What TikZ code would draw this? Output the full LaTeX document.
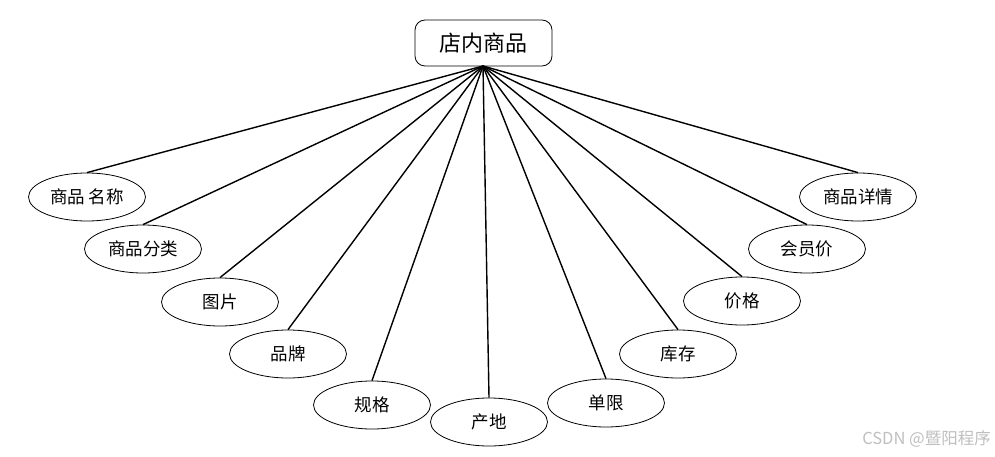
\documentclass[tikz,border=0pt]{standalone}
\usepackage{fontspec}
\newfontfamily\cjk{Noto Sans CJK SC}
\usetikzlibrary{shapes.geometric}
\begin{document}
\begin{tikzpicture}[x=1pt,y=-1pt,
  attr/.style={draw, ellipse, line width=0.8pt, minimum width=117pt, minimum height=48pt, inner sep=0pt, font=\cjk\fontsize{17.5}{20}\selectfont},
  root/.style={draw, rounded corners=10pt, line width=0.8pt, minimum width=137pt, minimum height=46pt, inner sep=0pt, font=\cjk\fontsize{22}{26}\selectfont},
  link/.style={line width=1.4pt}]
\useasboundingbox (0,0) rectangle (995,457);
\fill[white] (0,0) rectangle (995,457);
\node[root] (top) at (483.5,43) {店内商品};
\coordinate (hub) at (483,66);
\node[attr] (a1) at (87,197) {商品 名称};
\node[attr] (a2) at (143,249) {商品分类};
\node[attr] (a3) at (220,302) {图片};
\node[attr] (a4) at (288,354) {品牌};
\node[attr] (a5) at (372,405) {规格};
\node[attr] (a6) at (489,422) {产地};
\node[attr] (a7) at (606,403) {单限};
\node[attr] (a8) at (678,354) {库存};
\node[attr] (a9) at (742,301) {价格};
\node[attr] (a10) at (807,249) {会员价};
\node[attr] (a11) at (858,197) {商品详情};
\foreach \n in {a1,a2,a3,a4,a5,a6,a7,a8,a9,a10,a11}
  \draw[link] (hub) -- (\n.north);
\node[anchor=east, text=gray!50, font=\cjk\fontsize{16.5}{19}\selectfont, inner sep=0pt] (wm) at (991,439) {CSDN @暨阳程序};
\end{tikzpicture}
\end{document}
